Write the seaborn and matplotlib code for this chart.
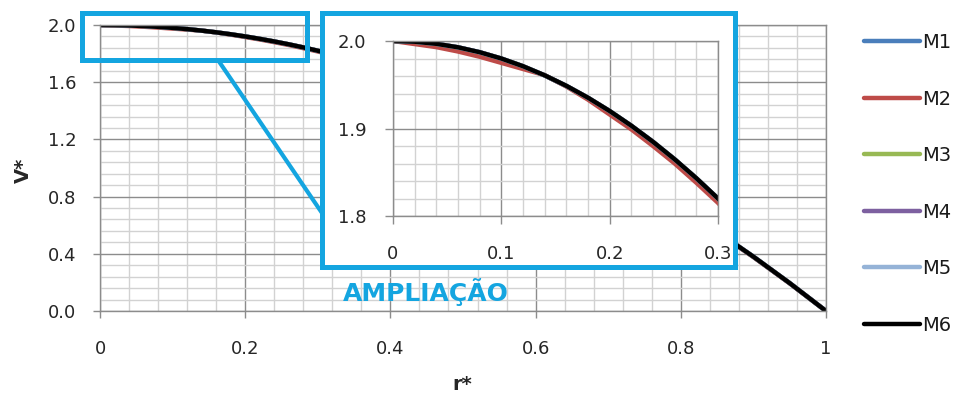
import numpy as np
import pandas as pd
import matplotlib
matplotlib.use("Agg")
import matplotlib.pyplot as plt
from matplotlib.ticker import MultipleLocator, FormatStrFormatter
from matplotlib.patches import Rectangle
from matplotlib.lines import Line2D
import seaborn as sns

# Radial position r* and velocity profiles V* for six meshes
r = [0.00, 0.02, 0.04, 0.06, 0.08, 0.10, 0.12, 0.14, 0.16, 0.18, 0.20, 0.22,
     0.24, 0.26, 0.28, 0.30, 0.35, 0.40, 0.45, 0.50, 0.55, 0.60, 0.65, 0.70,
     0.75, 0.80, 0.85, 0.90, 0.95, 1.00]

M1 = [2.000, 1.9991, 1.9967, 1.9927, 1.9871, 1.9798, 1.9710, 1.9606, 1.9486,
      1.9350, 1.9198, 1.9030, 1.8846, 1.8646, 1.8430, 1.8198, 1.7548, 1.6798,
      1.5948, 1.4998, 1.3948, 1.2798, 1.1548, 1.0198, 0.8748, 0.7198, 0.5548,
      0.3798, 0.1948, 0.000]
M2 = [2.000, 1.9965, 1.993, 1.988, 1.982, 1.975, 1.968, 1.961, 1.948, 1.933,
      1.916, 1.899, 1.880, 1.860, 1.838, 1.815, 1.750, 1.675, 1.590, 1.495,
      1.390, 1.275, 1.150, 1.015, 0.870, 0.716, 0.551, 0.377, 0.193, 0.000]
M3 = [2.000, 1.9991, 1.9967, 1.9927, 1.9871, 1.9799, 1.9711, 1.9607, 1.9487,
      1.9351, 1.9199, 1.9031, 1.8847, 1.8647, 1.8431, 1.8199, 1.7549, 1.6799,
      1.5949, 1.4999, 1.3949, 1.2799, 1.1549, 1.0199, 0.8749, 0.7199, 0.5549,
      0.3799, 0.1949, 0.000]
M4 = [2.000, 1.9992, 1.9968, 1.9928, 1.9872, 1.9799, 1.9711, 1.9607, 1.9487,
      1.9351, 1.9199, 1.9031, 1.8847, 1.8647, 1.8431, 1.8199, 1.7549, 1.6799,
      1.5949, 1.4999, 1.3949, 1.2799, 1.1549, 1.0199, 0.8749, 0.7199, 0.5549,
      0.3799, 0.1949, 0.000]
M5 = [2.000, 1.9992, 1.9968, 1.9928, 1.9872, 1.9800, 1.9712, 1.9608, 1.9488,
      1.9352, 1.9200, 1.9032, 1.8848, 1.8648, 1.8432, 1.8200, 1.7550, 1.6800,
      1.5950, 1.5000, 1.3950, 1.2800, 1.1550, 1.0200, 0.8750, 0.7200, 0.5550,
      0.3800, 0.1950, 0.000]
M6 = [2.000, 1.9992, 1.9968, 1.9928, 1.9872, 1.980, 1.9712, 1.9608, 1.9488,
      1.9352, 1.920, 1.9032, 1.8848, 1.8648, 1.8432, 1.820, 1.755, 1.680,
      1.595, 1.500, 1.395, 1.280, 1.155, 1.020, 0.875, 0.720, 0.555, 0.380,
      0.195, 0.000]

series_names = ["M1", "M2", "M3", "M4", "M5", "M6"]
series_values = [M1, M2, M3, M4, M5, M6]
colors = ["#4A7EBB", "#BE4B48", "#98B954", "#7D60A0", "#95B3D7", "#000000"]

main_xticks = [0, 0.2, 0.4, 0.6, 0.8, 1.0]
main_xticklabels = ["0", "0.2", "0.4", "0.6", "0.8", "1"]
inset_xticks = [0, 0.1, 0.2, 0.3]
inset_xticklabels = ["0", "0.1", "0.2", "0.3"]

df = pd.DataFrame({
    "r": np.tile(r, len(series_names)),
    "V": np.concatenate(series_values),
    "Malha": np.repeat(series_names, len(r)),
})
palette = dict(zip(series_names, colors))

sns.set_style("white")
plt.rcParams["font.family"] = ["DejaVu Sans"]
plt.rcParams["text.color"] = "#1a1a1a"

BLUE = "#14A5E0"
MAJOR = "#8C8C8C"
MINOR = "#D2D2D2"

fig = plt.figure(figsize=(9.6, 3.94), dpi=100)

# main chart
ax = fig.add_axes([100/960, 1-311/394, 726/960, 286/394])
sns.lineplot(data=df, x="r", y="V", hue="Malha", palette=palette,
             linewidth=3.2, sort=False, estimator=None, ax=ax, legend=True)
handles, labels = ax.get_legend_handles_labels()
ax.get_legend().remove()

ax.set_xlim(0, 1)
ax.set_ylim(0, 2.0)
ax.xaxis.set_major_locator(MultipleLocator(0.2))
ax.xaxis.set_minor_locator(MultipleLocator(0.04))
ax.yaxis.set_major_locator(MultipleLocator(0.4))
ax.yaxis.set_minor_locator(MultipleLocator(0.08))
ax.set_xticks(main_xticks)
ax.set_xticklabels(main_xticklabels)
ax.yaxis.set_major_formatter(FormatStrFormatter("%.1f"))
ax.grid(which="major", color=MAJOR, linewidth=1.0)
ax.grid(which="minor", color=MINOR, linewidth=1.0)
ax.set_axisbelow(True)
ax.tick_params(which="major", direction="out", length=5, width=1.0,
               color=MAJOR, labelsize=13, bottom=True, left=True)
ax.tick_params(axis="x", pad=16)
ax.tick_params(axis="y", pad=12)
ax.tick_params(which="minor", length=0)
for s in ax.spines.values():
    s.set_color(MAJOR)
    s.set_linewidth(1.0)
ax.set_xlabel("r*", fontsize=14, fontweight="bold")
ax.set_ylabel("V*", fontsize=14, fontweight="bold")
ax.xaxis.set_label_coords(0.4986, -0.225)
ax.yaxis.set_label_coords(-0.092, 0.493)

# highlighted region and connector
fig.patches.append(Rectangle((82/960, 1-60/394), 225/960, 47/394,
                             transform=fig.transFigure, fill=False,
                             edgecolor=BLUE, linewidth=3.6, zorder=3))
fig.lines.append(Line2D([218/960, 322/960], [1-60/394, 1-213/394],
                        transform=fig.transFigure, color=BLUE,
                        linewidth=3.0, zorder=3))

# zoom frame
frame = fig.add_axes([322/960, 1-267/394, 413/960, 254/394], zorder=5)
frame.set_facecolor("white")
frame.set_xticks([])
frame.set_yticks([])
for s in frame.spines.values():
    s.set_color(BLUE)
    s.set_linewidth(3.6)

# zoomed chart
axi = fig.add_axes([393/960, 1-216/394, 325/960, 175/394], zorder=6)
sns.lineplot(data=df, x="r", y="V", hue="Malha", palette=palette,
             linewidth=3.2, sort=False, estimator=None, ax=axi, legend=False)
axi.set_xlim(0, 0.3)
axi.set_ylim(1.8, 2.0)
axi.xaxis.set_major_locator(MultipleLocator(0.1))
axi.xaxis.set_minor_locator(MultipleLocator(0.02))
axi.yaxis.set_major_locator(MultipleLocator(0.1))
axi.yaxis.set_minor_locator(MultipleLocator(0.02))
axi.set_xticks(inset_xticks)
axi.set_xticklabels(inset_xticklabels)
axi.yaxis.set_major_formatter(FormatStrFormatter("%.1f"))
axi.grid(which="major", color=MAJOR, linewidth=1.0)
axi.grid(which="minor", color=MINOR, linewidth=1.0)
axi.set_axisbelow(True)
axi.tick_params(which="major", direction="out", length=6, width=1.0,
                color=MAJOR, labelsize=13, bottom=True, left=True)
axi.tick_params(axis="x", pad=15)
axi.tick_params(axis="y", pad=13)
axi.tick_params(which="minor", length=0)
axi.set_xlabel("")
axi.set_ylabel("")
for s in axi.spines.values():
    s.set_color(MAJOR)
    s.set_linewidth(1.0)

fig.text(426/960, 1-292/394, "AMPLIAÇÃO", color=BLUE, fontsize=18,
         fontweight="bold", ha="center", va="center")

for h in handles:
    h.set_linewidth(3.2)
fig.legend(handles, labels, loc="upper left",
           bbox_to_anchor=(864/960, 1-33/394), frameon=False,
           fontsize=14, handlelength=2.9, handletextpad=0.1,
           labelspacing=1.93, borderpad=0, borderaxespad=0)

fig.savefig("out.png", dpi=100)
